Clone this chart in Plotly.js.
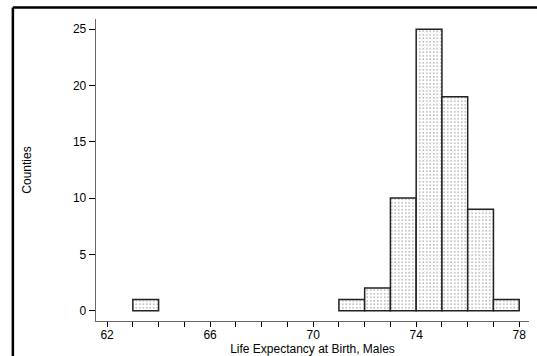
<!DOCTYPE html>
<html>
<head>
<meta charset="utf-8">
<script src="https://cdn.plot.ly/plotly-3.0.1.min.js"></script>
<style>html,body{margin:0;padding:0;background:#fff;}#chart{width:537px;height:356px;}</style>
</head>
<body>
<div id="chart"></div>
<script>
// Histogram bins (left edge, width 1 year) and county counts
var binStart = [63, 71, 72, 73, 74, 75, 76, 77];
var binWidth = [1, 1, 1, 1, 1, 1, 1, 1];
var counts   = [1, 1, 2, 10, 25, 19, 9, 1];

var xTickVals = [62,63,64,65,66,67,68,69,70,71,72,73,74,75,76,77,78];
var xTickText = ["62","","","","66","","","","70","","","","74","","","","78"];
var yTickVals = [0, 5, 10, 15, 20, 25];

var trace = {
  type: 'bar',
  x: binStart,
  y: counts,
  width: binWidth,
  offset: 0,
  marker: {
    color: 'white',
    line: {color: '#222', width: 1.5},
    pattern: {shape: '.', fgcolor: '#777', bgcolor: 'white', size: 3.5, solidity: 0.12}
  },
  hoverinfo: 'none'
};

var tickFont = {family: 'Liberation Sans, Arial, sans-serif', size: 12, color: '#000'};
var titleFont = {family: 'Liberation Sans, Arial, sans-serif', size: 12, color: '#000'};

var layout = {
  width: 537, height: 356,
  margin: {l: 96, r: 8, t: 19, b: 35},
  paper_bgcolor: 'white', plot_bgcolor: 'white',
  showlegend: false,
  font: tickFont,
  bargap: 0,
  xaxis: {
    range: [61.57, 78.38],
    tickmode: 'array', tickvals: xTickVals, ticktext: xTickText,
    ticks: 'outside', ticklen: 5, tickwidth: 1, tickcolor: '#000',
    ticklabelstandoff: -3,
    showline: true, linecolor: '#666', linewidth: 1.3,
    showgrid: false, zeroline: false,
    tickfont: tickFont,
    title: {text: 'Life Expectancy at Birth, Males', font: titleFont, standoff: 0}
  },
  yaxis: {
    range: [-0.92, 25.9],
    tickmode: 'array', tickvals: yTickVals,
    ticks: 'outside', ticklen: 6, tickwidth: 1, tickcolor: '#000',
    showline: true, linecolor: '#666', linewidth: 1.3,
    showgrid: false, zeroline: false,
    tickfont: tickFont,
    title: {text: 'Counties', font: titleFont, standoff: 38}
  },
  shapes: [
    {type: 'line', xref: 'paper', yref: 'paper', x0: -0.192, x1: 1.1, y0: 1.038, y1: 1.038, line: {color: '#000', width: 2.5}},
    {type: 'line', xref: 'paper', yref: 'paper', x0: -0.192, x1: -0.192, y0: 1.038, y1: -0.2, line: {color: '#000', width: 2.5}}
  ]
};

Plotly.newPlot('chart', [trace], layout, {staticPlot: true, displayModeBar: false});
</script>
</body>
</html>
